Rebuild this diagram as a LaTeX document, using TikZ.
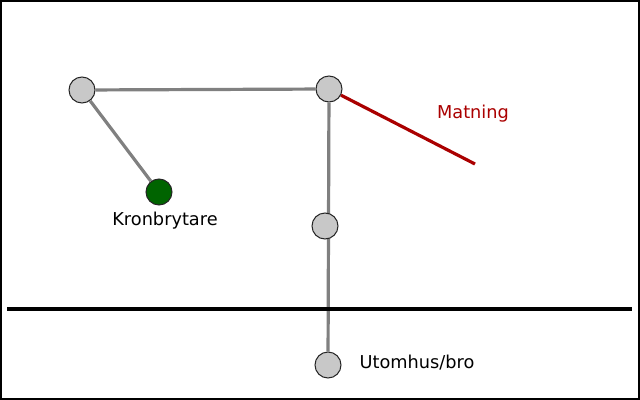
\documentclass[tikz,border=0pt]{standalone}
\usepackage{fontspec}
\setmainfont{DejaVu Sans}
\usetikzlibrary{shapes}
\definecolor{ledgray}{RGB}{128,128,128}
\definecolor{dosgray}{RGB}{200,200,200}
\definecolor{matred}{RGB}{170,0,0}
\definecolor{brytgreen}{RGB}{0,100,0}

\begin{document}
\begin{tikzpicture}[x=0.75pt,y=-0.75pt]
   \useasboundingbox (0,0) rectangle (640,400);
   \draw[line width=1.5pt] (1,1) rectangle (639,399);
   \fontsize{13.3}{16}\selectfont
   \tikzstyle{main}=[circle, minimum size=19.5pt, inner sep=0pt, draw=black!85, fill=dosgray, line width=0.75pt]
   \tikzstyle{led}=[draw=ledgray, line width=2.4pt]
   \node[main] (hornV) at (82,90) {};
   \node[main] (hornH) at (329,89) {};
   \node[main] (ute) at (328,365) {};
   \node[main, fill=brytgreen] (kron) at (159,192) {};
   % ledningar
   \path (hornV) edge[led] (hornH);
   \path (hornV) edge[led] (kron);
   \path (hornH) edge[led] (ute);
   \coordinate (matslut) at (475,164);
   \path (hornH) edge[draw=matred, line width=2.4pt] (matslut);
   \node[main] (mitt) at (325,226) {};
   % mark
   \coordinate (markV) at (7,309);
   \coordinate (markH) at (632,309);
   \draw[line width=2.4pt] (markV) -- (markH);
   \node[text=matred] (matning) at (473,114) {Matning};
   \node (kronlbl) at (165,221) {Kronbrytare};
   \node (utelbl) at (417,363) {Utomhus/bro};
\end{tikzpicture}
\end{document}
